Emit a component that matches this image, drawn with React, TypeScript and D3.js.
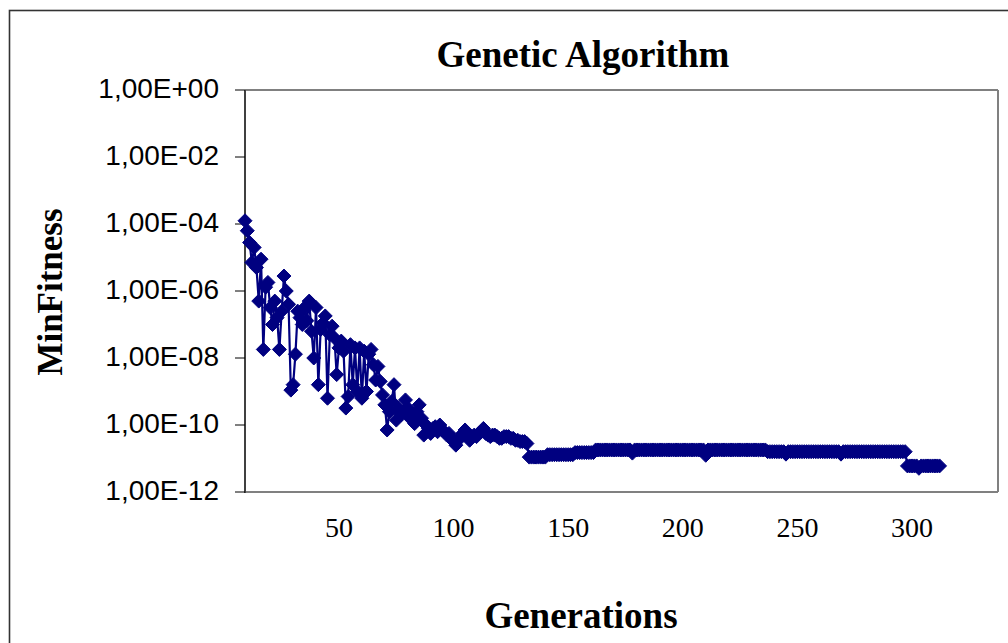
import React from "react";
import * as d3 from "d3";

// ---------- data ----------
const FIRST_GENERATION = 9;
const X_TICKS = [50, 100, 150, 200, 250, 300];
const Y_TICKS = [1e0, 1e-2, 1e-4, 1e-6, 1e-8, 1e-10, 1e-12];
const Y_TICK_LABELS = ["1,00E+00", "1,00E-02", "1,00E-04", "1,00E-06", "1,00E-08", "1,00E-10", "1,00E-12"];
const TITLE = "Genetic Algorithm";
const X_TITLE = "Generations";
const Y_TITLE = "MinFitness";

// generations 9..50
const earlySearch = [
  1.25e-4, 6.3e-5, 2.8e-5, 7.1e-6, 2.0e-5, 5.0e-6, 5.0e-7, 8.9e-6, 1.8e-8, 1.3e-6,
  1.8e-6, 3.2e-7, 1.0e-7, 5.0e-7, 1.6e-7, 1.8e-8, 2.5e-7, 2.8e-6, 1.0e-6, 4.0e-7,
  1.1e-9, 1.6e-9, 1.3e-8, 2.5e-7, 1.6e-7, 1.0e-7, 3.2e-7, 1.3e-7, 5.0e-7, 6.3e-8,
  1.0e-8, 3.2e-7, 1.6e-9, 7.1e-8, 1.1e-7, 1.8e-7, 6.3e-10, 5.0e-8, 8.9e-8, 4.0e-8,
  3.2e-9, 2.0e-8,
];

// generations 51..132
const convergence = [
  3.2e-8, 1.6e-8, 3.2e-10, 7.1e-10, 2.5e-8, 1.6e-9, 2.0e-8, 1.0e-9, 2.0e-8, 6.3e-10,
  1.6e-8, 1.0e-9, 1.3e-8, 1.8e-8, 6.3e-9, 2.2e-9, 5.6e-9, 2.0e-9, 7.9e-10, 4.0e-10,
  7.1e-11, 2.5e-10, 5.0e-10, 1.6e-9, 1.4e-10, 3.2e-10, 2.0e-10, 2.5e-10, 5.6e-10, 3.2e-10,
  1.6e-10, 2.0e-10, 1.1e-10, 2.5e-10, 4.0e-10, 1.6e-10, 5.0e-11, 1.0e-10, 7.9e-11, 5.6e-11,
  7.9e-11, 8.9e-11, 6.3e-11, 1.0e-10, 7.1e-11, 6.3e-11, 5.0e-11, 5.6e-11, 4.0e-11, 3.2e-11,
  2.5e-11, 3.5e-11, 4.5e-11, 5.6e-11, 7.1e-11, 5.0e-11, 3.5e-11, 4.5e-11, 5.0e-11, 4.5e-11,
  5.6e-11, 6.3e-11, 7.9e-11, 5.6e-11, 5.0e-11, 4.5e-11, 5.0e-11, 5.0e-11, 4.5e-11, 4.0e-11,
  4.0e-11, 4.5e-11, 4.5e-11, 4.5e-11, 4.0e-11, 4.0e-11, 3.5e-11, 3.5e-11, 3.2e-11, 3.2e-11,
  3.2e-11, 2.8e-11,
];

// generations 133..236
const plateauEarly = [
  1.1e-11, 1.1e-11, 1.1e-11, 1.1e-11, 1.1e-11, 1.1e-11, 1.1e-11, 1.1e-11, 1.3e-11, 1.3e-11,
  1.3e-11, 1.3e-11, 1.3e-11, 1.3e-11, 1.3e-11, 1.3e-11, 1.3e-11, 1.3e-11, 1.3e-11, 1.3e-11,
  1.5e-11, 1.5e-11, 1.5e-11, 1.5e-11, 1.5e-11, 1.5e-11, 1.5e-11, 1.5e-11, 1.5e-11, 1.8e-11,
  1.8e-11, 1.8e-11, 1.8e-11, 1.8e-11, 1.8e-11, 1.8e-11, 1.8e-11, 1.8e-11, 1.8e-11, 1.8e-11,
  1.8e-11, 1.8e-11, 1.8e-11, 1.8e-11, 1.8e-11, 1.45e-11, 1.8e-11, 1.8e-11, 1.8e-11, 1.8e-11,
  1.8e-11, 1.8e-11, 1.8e-11, 1.8e-11, 1.8e-11, 1.8e-11, 1.8e-11, 1.8e-11, 1.8e-11, 1.8e-11,
  1.8e-11, 1.8e-11, 1.8e-11, 1.8e-11, 1.8e-11, 1.8e-11, 1.8e-11, 1.8e-11, 1.8e-11, 1.8e-11,
  1.8e-11, 1.8e-11, 1.8e-11, 1.8e-11, 1.8e-11, 1.8e-11, 1.8e-11, 1.25e-11, 1.8e-11, 1.8e-11,
  1.8e-11, 1.8e-11, 1.8e-11, 1.8e-11, 1.8e-11, 1.8e-11, 1.8e-11, 1.8e-11, 1.8e-11, 1.8e-11,
  1.8e-11, 1.8e-11, 1.8e-11, 1.8e-11, 1.8e-11, 1.8e-11, 1.8e-11, 1.8e-11, 1.8e-11, 1.8e-11,
  1.8e-11, 1.8e-11, 1.8e-11, 1.8e-11,
];

// generations 237..297
const plateauLate = [
  1.6e-11, 1.6e-11, 1.6e-11, 1.6e-11, 1.6e-11, 1.6e-11,
  1.6e-11, 1.6e-11, 1.35e-11, 1.6e-11, 1.6e-11, 1.6e-11, 1.6e-11, 1.6e-11, 1.6e-11, 1.6e-11,
  1.6e-11, 1.6e-11, 1.6e-11, 1.6e-11, 1.6e-11, 1.6e-11, 1.6e-11, 1.6e-11, 1.6e-11, 1.6e-11,
  1.6e-11, 1.6e-11, 1.6e-11, 1.6e-11, 1.6e-11, 1.6e-11, 1.35e-11, 1.6e-11, 1.6e-11, 1.6e-11,
  1.6e-11, 1.6e-11, 1.6e-11, 1.6e-11, 1.6e-11, 1.6e-11, 1.6e-11, 1.6e-11, 1.6e-11, 1.6e-11,
  1.6e-11, 1.6e-11, 1.6e-11, 1.6e-11, 1.6e-11, 1.6e-11, 1.6e-11, 1.6e-11, 1.6e-11, 1.6e-11,
  1.6e-11, 1.6e-11, 1.6e-11, 1.6e-11, 1.6e-11,
];

// generations 298..312
const finalPhase = [
  6.0e-12, 6.0e-12, 6.0e-12, 6.0e-12, 6.0e-12,
  5.1e-12, 6.0e-12, 6.0e-12, 6.0e-12, 6.0e-12, 6.0e-12, 6.0e-12, 6.0e-12, 6.0e-12, 6.0e-12,
];

const minFitness = [...earlySearch, ...convergence, ...plateauEarly, ...plateauLate, ...finalPhase];

// ---------- chart ----------
export default function App() {
  const W = 1008;
  const H = 643;
  const plot = { left: 245, right: 998, top: 90, bottom: 492 };
  const navy = "#000080";

  const x = d3.scaleLinear().domain([FIRST_GENERATION, 337.5]).range([plot.left, plot.right]);
  const y = d3.scaleLog().domain([1e-12, 1]).range([plot.bottom, plot.top]);

  const points = minFitness.map((v, i) => ({ g: FIRST_GENERATION + i, v }));
  const linePath = d3
    .line<{ g: number; v: number }>()
    .x((d) => x(d.g))
    .y((d) => y(d.v))(points) as string;

  const r = 7;
  const diamond = `M0,${-r}L${r},0L0,${r}L${-r},0Z`;

  const serif = "'Liberation Serif', 'Times New Roman', serif";
  const sans = "'Liberation Sans', Arial, sans-serif";

  return (
    <div style={{ position: "absolute", left: 0, top: 0 }}>
      <svg width={W} height={H} style={{ display: "block", background: "#fff" }}>
        <rect x={0} y={0} width={W} height={H} fill="#fff" />
        {/* outer chart frame */}
        <rect x={9.5} y={10.5} width={1020} height={660} fill="none" stroke="#333" strokeWidth={1.6} />

        {/* title */}
        <text x={583} y={67} textAnchor="middle" fontFamily={serif} fontWeight="bold" fontSize={37} fill="#000">
          {TITLE}
        </text>

        {/* plot area border */}
        <line x1={plot.left} y1={plot.top} x2={plot.right} y2={plot.top} stroke="#808080" strokeWidth={2} />
        <line x1={plot.right} y1={plot.top} x2={plot.right} y2={plot.bottom} stroke="#808080" strokeWidth={2} />
        <line x1={plot.left} y1={plot.bottom} x2={plot.right} y2={plot.bottom} stroke="#808080" strokeWidth={2} />
        <line x1={plot.left} y1={plot.top} x2={plot.left} y2={plot.bottom + 1} stroke="#404040" strokeWidth={2} />

        {/* y ticks and labels */}
        {Y_TICKS.map((t, i) => (
          <g key={i}>
            <line x1={235} x2={plot.left} y1={y(t)} y2={y(t)} stroke="#000" strokeWidth={1} />
            <text x={219} y={y(t) + 7.5} textAnchor="end" fontFamily={sans} fontSize={28} fill="#000">
              {Y_TICK_LABELS[i]}
            </text>
          </g>
        ))}

        {/* x labels */}
        {X_TICKS.map((t) => (
          <text key={t} x={x(t)} y={537} textAnchor="middle" fontFamily={serif} fontSize={28} fill="#000">
            {t}
          </text>
        ))}

        {/* series */}
        <path d={linePath} fill="none" stroke={navy} strokeWidth={2.2} strokeLinejoin="round" />
        {points.map((d, i) => (
          <path key={i} d={diamond} transform={`translate(${x(d.g)},${y(d.v)})`} fill={navy} stroke={navy} strokeWidth={1} />
        ))}

        {/* axis titles */}
        <text x={581} y={628} textAnchor="middle" fontFamily={serif} fontWeight="bold" fontSize={37} fill="#000">
          {X_TITLE}
        </text>
        <text
          transform={`translate(62,292) rotate(-90)`}
          textAnchor="middle"
          fontFamily={serif}
          fontWeight="bold"
          fontSize={35}
          fill="#000"
        >
          {Y_TITLE}
        </text>
      </svg>
    </div>
  );
}
